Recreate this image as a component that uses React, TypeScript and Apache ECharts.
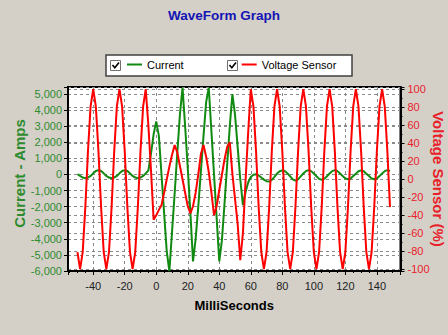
import React, { useEffect, useRef } from "react";
import * as echarts from "echarts";

const titleText = "WaveForm Graph";
const seriesNames = ["Current", "Voltage Sensor"];
const xAxisName = "MilliSeconds";
const leftAxisName = "Current - Amps";
const rightAxisName = "Voltage Sensor (%)";

const timeMs = [
  -50, -48.33, -46.67, -45, -43.33, -41.67, -40, -38.33, -36.67, -35,
  -33.33, -31.67, -30, -28.33, -26.67, -25, -23.33, -21.67, -20, -18.33,
  -16.67, -15, -13.33, -11.67, -10, -8.33, -6.67, -5, -3.33, -1.67,
  0, 1.67, 3.33, 5, 6.67, 8.33, 10, 11.67, 13.33, 15,
  16.67, 18.33, 20, 21.67, 23.33, 25, 26.67, 28.33, 30, 31.67,
  33.33, 35, 36.67, 38.33, 40, 41.67, 43.33, 45, 46.67, 48.33,
  50, 51.67, 53.33, 55, 56.67, 58.33, 60, 61.67, 63.33, 65,
  66.67, 68.33, 70, 71.67, 73.33, 75, 76.67, 78.33, 80, 81.67,
  83.33, 85, 86.67, 88.33, 90, 91.67, 93.33, 95, 96.67, 98.33,
  100, 101.67, 103.33, 105, 106.67, 108.33, 110, 111.67, 113.33, 115,
  116.67, 118.33, 120, 121.67, 123.33, 125, 126.67, 128.33, 130, 131.67,
  133.33, 135, 136.67, 138.33, 140, 141.67, 143.33, 145, 146.67, 148.33,
];

const currentAmps = [
  20, -90, -190, -230, -190, -90, 70, 215, 270, 215,
  70, -90, -190, -230, -190, -90, 70, 215, 270, 215,
  70, -90, -190, -230, -190, -90, 70, 250, 1300, 2500,
  3300, 2400, 0, -2400, -4800, -6000, -3600, -1200, 1300, 3700,
  5400, 3000, 400, -2400, -5400, -4000, -2000, 200, 2400, 4500,
  5400, 2700, 0, -2700, -5400, -4100, -1800, 600, 3000, 5000,
  3700, 1700, -300, -1900, -1100, -500, -150, -20, 20, -60,
  -190, -320, -420, -440, -330, -150, 60, 200, 260, 210,
  60, -120, -300, -380, -300, -120, 60, 210, 270, 210,
  60, -110, -270, -330, -270, -110, 60, 210, 270, 210,
  60, -100, -250, -300, -250, -100, 50, 200, 260, 200,
  50, -100, -250, -300, -250, -100, 60, 210, 270, 210,
];

const voltagePct = [
  -81, -100, -81, -31, 31, 81, 100, 81, 31, -31,
  -81, -100, -81, -31, 31, 81, 100, 81, 31, -31,
  -81, -100, -81, -31, 31, 81, 100, 60, 10, -45,
  -40, -34, -29, -15, 0, 14, 27, 38, 30, 15,
  0, -15, -30, -38, -30, -15, 5, 28, 38, 25,
  8, -15, -40, -30, -12, 5, 22, 36, 41, 6,
  -22, -50, -90, -60, -2, 52, 100, 81, 31, -31,
  -81, -100, -81, -31, 31, 81, 100, 81, 31, -31,
  -81, -100, -81, -31, 31, 81, 100, 81, 31, -31,
  -81, -100, -81, -31, 31, 81, 100, 81, 31, -31,
  -81, -100, -81, -31, 31, 81, 100, 81, 31, -31,
  -81, -100, -81, -31, 31, 81, 100, 81, 31, -31,
];

const FONT = 'Arial, "Liberation Sans", sans-serif';
const GREEN_LINE = "#108a10";
const GREEN_TEXT = "#2e8b2e";
const RED_LINE = "#ff0000";
const RED_TEXT = "#e8202a";

function withCommas(v: number): string {
  const s = Math.abs(v).toString().replace(/\B(?=(\d{3})+(?!\d))/g, ",");
  return (v < 0 ? "-" : "") + s;
}

export default function App() {
  const ref = useRef<HTMLDivElement>(null);

  useEffect(() => {
    if (!ref.current) return;
    const chart = echarts.init(ref.current, null, { renderer: "svg" });

    const currentData = timeMs.map((t, i) => [t, currentAmps[i]]);
    const voltageData = timeMs.map((t, i) => [t, voltagePct[i]]);

    const gridLine = { show: true, lineStyle: { color: "#8a8a8a", type: [3, 3] as any, width: 1 } };

    chart.setOption({
      animation: false,
      backgroundColor: "#d4d0c8",
      textStyle: { fontFamily: FONT },
      title: {
        text: titleText,
        left: "center",
        top: 8,
        padding: 0,
        textStyle: { color: "#1414b4", fontSize: 13.5, fontWeight: "bold", fontFamily: FONT },
      },
      legend: {
        left: 127,
        top: 59,
        padding: 0,
        itemWidth: 15,
        itemHeight: 2,
        itemGap: 58,
        icon: "rect",
        data: seriesNames,
        textStyle: { color: "#000", fontSize: 11, fontFamily: FONT },
      },
      graphic: [
        {
          type: "rect",
          z: -1,
          shape: { x: 106, y: 55, width: 246, height: 21 },
          style: { fill: "#fff", stroke: "#404040", lineWidth: 1.5 },
        },
        {
          type: "rect",
          shape: { x: 110.5, y: 60.5, width: 10, height: 10 },
          style: { fill: "#fff", stroke: "#707070", lineWidth: 1 },
        },
        {
          type: "polyline",
          shape: { points: [[112.5, 65], [114.8, 67.8], [119, 62.5]] },
          style: { stroke: "#000", lineWidth: 1.6, fill: null },
        },
        {
          type: "rect",
          shape: { x: 227.5, y: 60.5, width: 10, height: 10 },
          style: { fill: "#fff", stroke: "#707070", lineWidth: 1 },
        },
        {
          type: "polyline",
          shape: { points: [[229.5, 65], [231.8, 67.8], [236, 62.5]] },
          style: { stroke: "#000", lineWidth: 1.6, fill: null },
        },
      ],
      grid: {
        left: 68,
        right: 47.5,
        top: 87,
        bottom: 64,
        containLabel: false,
        outerBoundsMode: "none",
        show: true,
        backgroundColor: "#ffffff",
        borderColor: "#000",
        borderWidth: 2,
      },
      xAxis: {
        type: "value",
        min: -56,
        max: 155,
        splitNumber: 10,
        name: xAxisName,
        nameLocation: "middle",
        nameGap: 28,
        nameMoveOverlap: false,
        nameTextStyle: { color: "#000", fontSize: 13, fontWeight: "bold", fontFamily: FONT },
        axisLine: { show: true, onZero: false, lineStyle: { color: "#000", width: 2 } },
        axisTick: { show: true, inside: false, length: 4, lineStyle: { color: "#000" } },
        minorTick: { show: true, splitNumber: 4, length: 2, lineStyle: { color: "#000" } },
        axisLabel: {
          color: "#222",
          fontSize: 11,
          margin: 9,
          fontFamily: FONT,
          formatter: (v: number) => (Math.round(v) % 20 === 0 && Math.abs(v - Math.round(v)) < 1e-6 ? String(v) : ""),
        },
        splitLine: gridLine,
      },
      yAxis: [
        {
          type: "value",
          position: "left",
          min: -6000,
          max: 5440,
          interval: 1000,
          name: leftAxisName,
          nameLocation: "middle",
          nameGap: 41,
          nameMoveOverlap: false,
          nameTextStyle: {
            color: GREEN_TEXT,
            fontSize: 15,
            fontWeight: "bold",
            fontFamily: FONT,
            padding: [0, 0, 0, 11],
          },
          axisLine: { show: true, onZero: false, lineStyle: { color: "#000", width: 2 } },
          axisTick: { show: true, length: 4, lineStyle: { color: "#000" } },
          axisLabel: {
            color: GREEN_TEXT,
            fontSize: 11,
            margin: 6,
            fontFamily: FONT,
            formatter: (v: number) => (v % 1000 === 0 ? withCommas(v) : ""),
          },
          splitLine: gridLine,
        },
        {
          type: "value",
          position: "right",
          min: -102,
          max: 102.5,
          splitNumber: 10,
          name: rightAxisName,
          nameLocation: "middle",
          nameGap: 30,
          nameRotate: -90,
          nameMoveOverlap: false,
          nameTextStyle: { color: RED_TEXT, fontSize: 15, fontWeight: "bold", fontFamily: FONT },
          axisLine: { show: true, onZero: false, lineStyle: { color: "#000", width: 2 } },
          axisTick: { show: true, length: 4, lineStyle: { color: "#000" } },
          minorTick: { show: true, splitNumber: 2, length: 2, lineStyle: { color: "#000" } },
          axisLabel: {
            color: RED_TEXT,
            fontSize: 11,
            margin: 7,
            fontFamily: FONT,
            formatter: (v: number) => (v % 20 === 0 ? String(v) : ""),
          },
          splitLine: gridLine,
        },
      ],
      series: [
        {
          name: seriesNames[0],
          type: "line",
          yAxisIndex: 0,
          data: currentData,
          showSymbol: false,
          symbol: "none",
          lineStyle: { color: GREEN_LINE, width: 2 },
          itemStyle: { color: GREEN_LINE },
        },
        {
          name: seriesNames[1],
          type: "line",
          yAxisIndex: 1,
          data: voltageData,
          showSymbol: false,
          symbol: "none",
          lineStyle: { color: RED_LINE, width: 2 },
          itemStyle: { color: RED_LINE },
        },
      ],
    });

    return () => chart.dispose();
  }, []);

  return (
    <div
      ref={ref}
      style={{ position: "fixed", left: 0, top: 0, width: 448, height: 335, background: "#d4d0c8" }}
    />
  );
}
